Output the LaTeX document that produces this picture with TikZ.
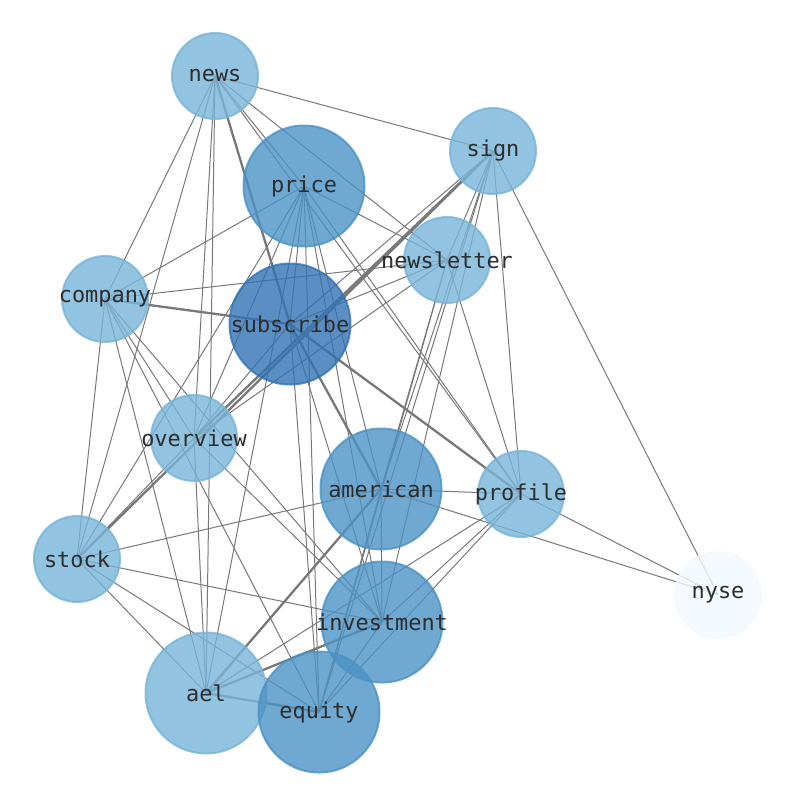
\documentclass[tikz,border=0pt]{standalone}
\usepackage{fontspec}
\setmonofont{DejaVu Sans Mono}
\pgfdeclarelayer{background}
\pgfsetlayers{background,main}
\definecolor{lightc}{RGB}{119,180,216}
\definecolor{midc}{RGB}{75,146,196}
\definecolor{darkc}{RGB}{50,115,180}
\definecolor{palec}{RGB}{242,249,255}
\definecolor{edgec}{RGB}{120,120,120}
\definecolor{txtc}{RGB}{45,45,45}
\newcommand\vlabel[1]{\makebox[0pt]{#1}}
\tikzset{
  vert/.style={circle, inner sep=0pt, line width=2pt, fill opacity=0.8, draw opacity=0.8, text opacity=1,
    text=txtc, font=\ttfamily\fontsize{21.9}{24}\selectfont},
  smallv/.style={vert, minimum size=86pt, fill=lightc, draw=lightc},
  bigv/.style={vert, minimum size=121pt, fill=midc, draw=midc},
  bigl/.style={vert, minimum size=121pt, fill=lightc, draw=lightc},
  subv/.style={vert, minimum size=121pt, fill=darkc, draw=darkc},
  palev/.style={vert, minimum size=86pt, fill=palec, draw=palec},
  link/.style={draw=edgec, line width=1pt},
  heavy/.style={draw=edgec, line width=2.3pt},
}
\begin{document}
\begin{tikzpicture}[x=1pt,y=-1pt]
\useasboundingbox (0,0) rectangle (794,790);
\node[smallv] (news) at (215,76) {\vlabel{news}};
\node[smallv] (sign) at (493,151) {\vlabel{sign}};
\node[bigv] (price) at (304,186) {\vlabel{price}};
\node[smallv] (newsletter) at (447,260) {\vlabel{newsletter}};
\node[smallv] (company) at (105,299) {\vlabel{company}};
\node[subv] (subscribe) at (290,324) {\vlabel{subscribe}};
\node[smallv] (overview) at (194,438) {\vlabel{overview}};
\node[bigv] (american) at (381,489) {\vlabel{american}};
\node[smallv] (profile) at (521,494) {\vlabel{profile}};
\node[smallv] (stock) at (77,559) {\vlabel{stock}};
\node[palev] (nyse) at (718,595) {\vlabel{nyse}};
\node[bigv] (investment) at (382,622) {\vlabel{investment}};
\node[bigl] (ael) at (206,693) {\vlabel{ael}};
\node[bigv] (equity) at (319,712) {\vlabel{equity}};
\begin{pgfonlayer}{background}
\foreach \a/\b in {news/sign, news/price, news/newsletter, news/profile, news/company, news/stock, news/overview, news/ael,
  sign/newsletter, sign/subscribe, sign/american, sign/investment, sign/equity, sign/profile, sign/nyse,
  price/company, price/newsletter, price/stock, price/overview, price/ael, price/subscribe, price/american, price/investment, price/equity, price/profile,
  newsletter/company, newsletter/subscribe, newsletter/overview, newsletter/profile, newsletter/american, newsletter/equity,
  company/stock, company/ael, company/overview, company/investment, company/equity,
  subscribe/equity, subscribe/investment, subscribe/overview,
  overview/stock, overview/ael, overview/investment,
  american/profile, american/nyse, american/stock, american/investment, american/equity,
  profile/nyse, profile/ael, profile/investment, profile/equity,
  stock/investment, stock/equity, stock/ael, investment/equity}
  \draw[link] (\a.center) -- (\b.center);
\foreach \a/\b in {news/subscribe, company/subscribe, subscribe/profile, subscribe/american, sign/overview, sign/stock,
  american/ael, ael/investment, ael/equity}
  \draw[heavy] (\a.center) -- (\b.center);
\end{pgfonlayer}
\end{tikzpicture}
\end{document}
